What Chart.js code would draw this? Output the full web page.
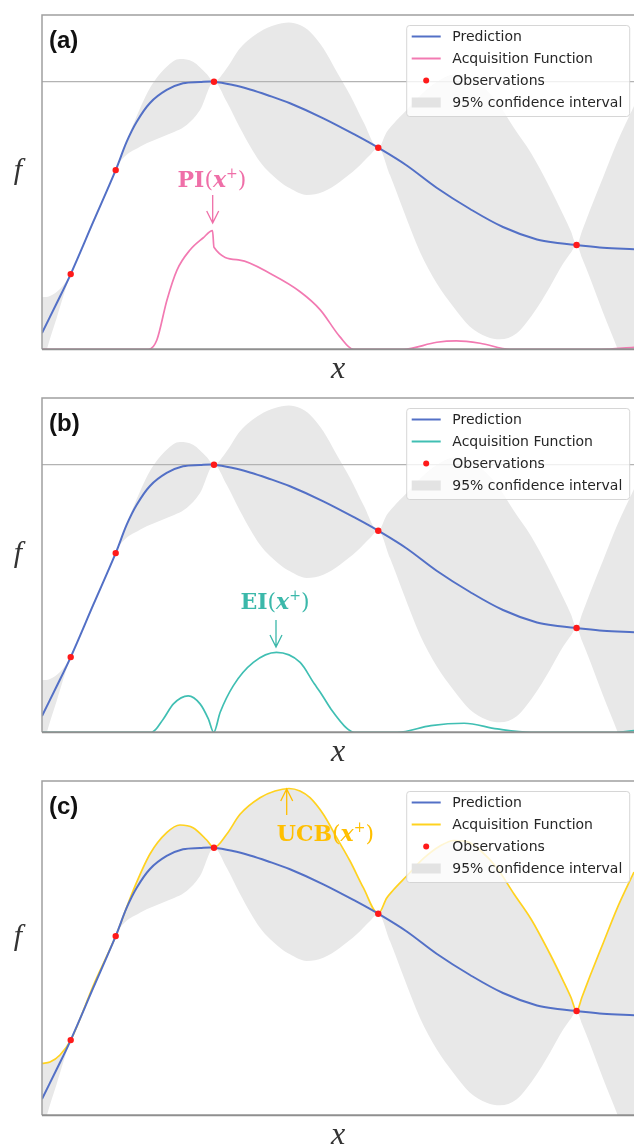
<!DOCTYPE html>
<html>
<head>
<meta charset="utf-8">
<script src="https://cdn.jsdelivr.net/npm/chart.js@4.4.1/dist/chart.umd.min.js"></script>
<style>
html,body{margin:0;padding:0;background:#fff;overflow:hidden;width:634px;height:1145px;}
canvas{position:absolute;left:0;}
</style>
</head>
<body>
<canvas id="ca" width="634" height="383" style="top:0px"></canvas>
<canvas id="cb" width="634" height="383" style="top:383px"></canvas>
<canvas id="cc" width="634" height="383" style="top:766px"></canvas>
<script>
// ---------- data (x and f in plot units, 0..100) ----------
const panelLetters = ['(a)', '(b)', '(c)'];
const acqNames = ['PI', 'EI', 'UCB'];
const legendLabels = ['Prediction', 'Acquisition Function', 'Observations', '95% confidence interval'];
const xTitle = 'x';
const yTitle = 'f';

const obsX = [4.85, 12.45, 29.05, 56.8, 90.3];
const obsY = [22.5, 53.6, 80.05, 60.3, 31.2];

const predX = [0, 2.48, 4.85, 8.67, 12.45, 14.31, 16.0, 18.24, 21.06, 23.82, 26.69, 29.05, 32.26, 35.14, 38.01, 41.89, 47.52, 53.16, 56.8, 61.49, 66.72, 72.3, 77.87, 83.61, 87.5, 90.3, 94.76, 100];
const predY = [4.88, 13.76, 22.5, 38.17, 53.6, 62.1, 68.08, 73.68, 77.57, 79.57, 79.95, 80.05, 79.06, 77.72, 76.07, 73.59, 69.1, 63.9, 60.3, 55.13, 48.25, 41.97, 36.58, 32.84, 31.71, 31.2, 30.39, 29.94];

const upperX = [0, 1.35, 3.04, 4.85, 8.67, 12.45, 15.37, 18.24, 21.06, 23.31, 25.51, 27.82, 29.05, 31.2, 33.45, 36.82, 39.36, 41.72, 43.58, 45.27, 47.52, 49.78, 52.03, 54.28, 56.8, 58.23, 59.34, 61.6, 64.53, 67.23, 69.59, 71.96, 74.16, 76.86, 79.73, 82.6, 85.81, 88.06, 89.36, 90.3, 91.22, 92.57, 94.82, 97.08, 100];
const upperY = [15.55, 15.94, 18.04, 22.5, 38.83, 53.6, 67.1, 78.16, 84.54, 86.84, 86.03, 82.35, 80.05, 84.06, 90.04, 95.0, 97.0, 97.76, 97.01, 95.0, 90.04, 83.04, 76.07, 68.08, 60.3, 65.0, 67.39, 71.58, 76.97, 80.56, 82.2, 81.75, 79.06, 73.97, 66.2, 58.72, 48.25, 40.17, 35.24, 31.2, 35.39, 41.67, 51.63, 61.62, 72.78];

const lowerX = [0, 0.84, 2.48, 4.85, 8.67, 12.45, 13.18, 16.55, 21.06, 24.44, 26.69, 29.05, 31.2, 33.45, 36.82, 40.2, 41.89, 44.71, 47.52, 50.34, 53.16, 55.41, 56.8, 58.78, 61.03, 63.85, 66.67, 69.48, 72.3, 75.12, 77.36, 80.19, 83.0, 85.81, 88.06, 89.36, 90.3, 91.22, 92.57, 94.82, 97.08, 100];
const lowerY = [-5.89, 0.09, 9.36, 22.5, 37.48, 53.6, 56.12, 60.6, 64.1, 67.1, 71.58, 80.05, 74.07, 66.2, 56.12, 50.13, 48.16, 46.16, 47.14, 50.13, 54.14, 58.12, 60.3, 52.14, 41.67, 29.11, 19.74, 12.74, 6.76, 3.77, 2.99, 4.79, 10.77, 18.73, 25.73, 28.96, 31.2, 27.31, 21.33, 10.77, 0.78, -12.17];

const piX = [0, 17.96, 19.4, 21.1, 22.8, 25.0, 27.2, 28.8, 29.05, 33.4, 39.0, 43.6, 47.0, 50.3, 52.6, 61.0, 66.7, 70.0, 74.0, 79.1, 94.3, 100];
const piY = [0, 0, 2.8, 14.7, 23.7, 29.7, 33.3, 35.5, 30.5, 26.7, 22.2, 17.2, 11.8, 3.8, 0, 0, 2.1, 2.5, 1.8, 0, 0, 0.6];

const eiX = [0, 18.5, 20.5, 22.2, 24.7, 26.7, 28.1, 29.0, 30.1, 32.3, 35.7, 39.6, 43.6, 46.0, 47.0, 48.8, 51.6, 52.7, 60.0, 65.7, 71.3, 76.9, 82.6, 96.6, 100];
const eiY = [0, 0, 4.0, 8.5, 10.9, 8.5, 4.0, 0, 6.0, 13.9, 20.9, 23.9, 20.9, 14.5, 12.0, 7.0, 1.0, 0, 0, 2.0, 2.7, 1.0, 0, 0, 0.5];

// UCB acquisition follows the upper confidence edge
const ucbX = upperX;
const ucbY = upperY;

// ---------- styles ----------
const BLUE = '#5370c6';
const RED = '#ff1a1a';
const GRAY_FILL = '#e8e8e8';
const acqLineColors = ['#f27ab2', '#40bfb3', '#ffd21f'];
const acqTextColors = ['#ef6fa8', '#3bb8aa', '#ffbf00'];

const zip = (xs, ys) => xs.map((x, i) => ({x: x, y: ys[i]}));

function roundRect(ctx, x, y, w, h, r) {
  ctx.beginPath();
  ctx.moveTo(x + r, y);
  ctx.lineTo(x + w - r, y);
  ctx.quadraticCurveTo(x + w, y, x + w, y + r);
  ctx.lineTo(x + w, y + h - r);
  ctx.quadraticCurveTo(x + w, y + h, x + w - r, y + h);
  ctx.lineTo(x + r, y + h);
  ctx.quadraticCurveTo(x, y + h, x, y + h - r);
  ctx.lineTo(x, y + r);
  ctx.quadraticCurveTo(x, y, x + r, y);
  ctx.closePath();
}

function drawMathLabel(ctx, name, size, color, x, y, align) {
  const fam = '"DejaVu Serif", serif';
  const parts = [
    {t: name, f: 'bold ' + size + 'px ' + fam, dy: 0},
    {t: '(', f: size + 'px ' + fam, dy: 0},
    {t: 'x', f: 'bold italic ' + size + 'px ' + fam, dy: 0},
    {t: '+', f: Math.round(size * 0.62) + 'px ' + fam, dy: -size * 0.42},
    {t: ')', f: size + 'px ' + fam, dy: 0}
  ];
  let total = 0;
  parts.forEach(p => { ctx.font = p.f; p.w = ctx.measureText(p.t).width; total += p.w; });
  let cx = align === 'left' ? x : x - total / 2;
  ctx.fillStyle = color;
  ctx.textAlign = 'left';
  ctx.textBaseline = 'alphabetic';
  parts.forEach(p => { ctx.font = p.f; ctx.fillText(p.t, cx, y + p.dy); cx += p.w; });
}

function drawArrow(ctx, x, y0, y1, color) {
  const dir = y1 > y0 ? 1 : -1;
  ctx.strokeStyle = color;
  ctx.lineWidth = 1.3;
  ctx.beginPath();
  ctx.moveTo(x, y0); ctx.lineTo(x, y1);
  ctx.moveTo(x - 6, y1 - dir * 12); ctx.lineTo(x, y1); ctx.lineTo(x + 6, y1 - dir * 12);
  ctx.stroke();
}

const decorPlugin = {
  id: 'decor',
  afterDatasetsDraw(chart, args, o) {
    const ctx = chart.ctx, a = chart.chartArea;
    ctx.save();
    // frame (left, top, bottom)
    ctx.strokeStyle = '#a0a0a0';
    ctx.lineWidth = 1.5;
    ctx.beginPath();
    ctx.moveTo(a.right, a.top); ctx.lineTo(a.left, a.top); ctx.lineTo(a.left, a.bottom);
    ctx.stroke();
    ctx.strokeStyle = '#8f8f8f';
    ctx.lineWidth = 2;
    ctx.beginPath();
    ctx.moveTo(a.left, a.bottom); ctx.lineTo(a.right, a.bottom);
    ctx.stroke();

    // panel letter
    ctx.fillStyle = '#111';
    ctx.font = 'bold 24px "Liberation Sans", Arial, sans-serif';
    ctx.textAlign = 'left';
    ctx.textBaseline = 'alphabetic';
    ctx.fillText(o.letter, a.left + 7, a.top + 33);

    // axis titles
    ctx.fillStyle = '#333';
    ctx.font = 'italic 30px "Liberation Serif", serif';
    ctx.textAlign = 'center';
    ctx.fillText(yTitle, 18, a.top + 164);
    ctx.font = 'italic 32px "Liberation Serif", serif';
    ctx.fillText(xTitle, 338, a.bottom + 29);

    // acquisition annotation
    const an = o.ann;
    drawMathLabel(ctx, an.name, an.size, an.textColor, an.tx, a.top + an.ty, an.align);
    drawArrow(ctx, an.ax, a.top + an.ay0, a.top + an.ay1, an.textColor);

    // legend
    const L = 406.7, T = a.top + 10.5, W = 223, H = 91;
    ctx.fillStyle = 'rgba(255,255,255,0.8)';
    roundRect(ctx, L, T, W, H, 3);
    ctx.fill();
    ctx.strokeStyle = 'rgba(210,210,210,0.9)';
    ctx.lineWidth = 1;
    ctx.stroke();
    const styles = [
      {kind: 'line', color: BLUE},
      {kind: 'line', color: o.acqColor},
      {kind: 'point', color: RED},
      {kind: 'patch', color: GRAY_FILL}
    ];
    ctx.font = '14px "DejaVu Sans", sans-serif';
    ctx.textAlign = 'left';
    ctx.textBaseline = 'middle';
    legendLabels.forEach((lab, i) => {
      const y = T + 11 + i * 22;
      const s = styles[i];
      if (s.kind === 'line') {
        ctx.strokeStyle = s.color; ctx.lineWidth = 2;
        ctx.beginPath(); ctx.moveTo(411.7, y); ctx.lineTo(440.7, y); ctx.stroke();
      } else if (s.kind === 'point') {
        ctx.fillStyle = s.color;
        ctx.beginPath(); ctx.arc(426.2, y, 3, 0, Math.PI * 2); ctx.fill();
      } else {
        ctx.fillStyle = '#e3e3e3';
        ctx.fillRect(411.7, y - 5, 29, 10);
      }
      ctx.fillStyle = '#262626';
      ctx.fillText(lab, 452.3, y + 0.5);
    });
    ctx.restore();
  }
};

function makeChart(id, idx) {
  const best = Math.max.apply(null, obsY);
  const acqData = idx === 0 ? zip(piX, piY) : idx === 1 ? zip(eiX, eiY) : zip(ucbX, ucbY);
  const smooth = {pointRadius: 0, tension: 0.4, cubicInterpolationMode: 'monotone'};
  const datasets = [
    {label: legendLabels[2], data: zip(obsX, obsY), showLine: false, pointRadius: 3.2,
      pointBackgroundColor: RED, pointBorderWidth: 0, pointStyle: 'circle'},
    {label: legendLabels[0], data: zip(predX, predY), borderColor: BLUE, borderWidth: 2,
      pointRadius: 0, tension: 0.35, cubicInterpolationMode: 'default'},
    Object.assign({label: legendLabels[1], data: acqData, borderColor: acqLineColors[idx], borderWidth: 1.7}, smooth)
  ];
  if (idx < 2) {
    datasets.push({label: 'best', data: [{x: 0, y: best}, {x: 100, y: best}], borderColor: '#b3b3b3',
      borderWidth: 1.2, pointRadius: 0});
  }
  datasets.push(Object.assign({label: legendLabels[3], data: zip(upperX, upperY), borderWidth: 0,
    borderColor: 'rgba(0,0,0,0)', backgroundColor: GRAY_FILL, fill: '+1'}, smooth));
  datasets.push(Object.assign({label: 'lower', data: zip(lowerX, lowerY), borderWidth: 0,
    borderColor: 'rgba(0,0,0,0)', fill: false}, smooth));

  const anns = [
    {name: acqNames[0], size: 22, textColor: acqTextColors[0], tx: 212, ty: 172, align: 'center', ax: 212.7, ay0: 180, ay1: 208},
    {name: acqNames[1], size: 22, textColor: acqTextColors[1], tx: 275, ty: 211, align: 'center', ax: 276, ay0: 222, ay1: 249},
    {name: acqNames[2], size: 22, textColor: acqTextColors[2], tx: 276.7, ty: 60, align: 'left', ax: 286.7, ay0: 34, ay1: 8}
  ];

  return new Chart(document.getElementById(id), {
    type: 'line',
    data: {datasets: datasets},
    options: {
      responsive: false,
      animation: false,
      devicePixelRatio: 1,
      events: [],
      layout: {autoPadding: false, padding: {left: 42, top: 15, right: 0, bottom: 33.7}},
      scales: {
        x: {type: 'linear', min: 0, max: 100, display: false},
        y: {type: 'linear', min: 0, max: 100, display: false}
      },
      plugins: {
        legend: {display: false},
        tooltip: {enabled: false},
        decor: {letter: panelLetters[idx], ann: anns[idx], acqColor: acqLineColors[idx]}
      }
    },
    plugins: [decorPlugin]
  });
}

makeChart('ca', 0);
makeChart('cb', 1);
makeChart('cc', 2);
</script>
</body>
</html>
